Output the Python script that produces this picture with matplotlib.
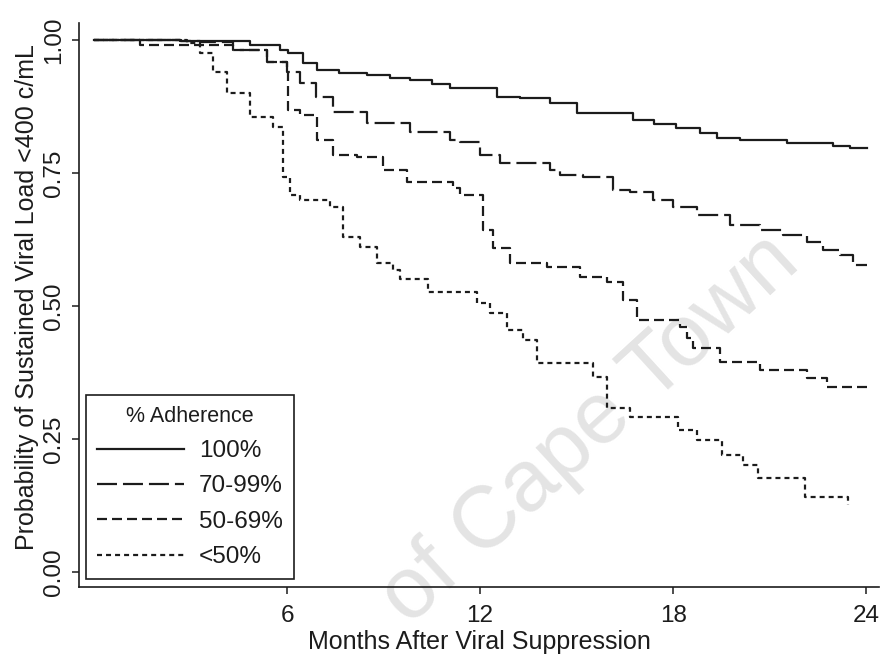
import matplotlib.pyplot as plt

plt.rcParams['font.family'] = ['Liberation Sans', 'DejaVu Sans']
plt.rcParams['lines.scale_dashes'] = False

# Kaplan-Meier step estimates by adherence group (months, survival)
t_100 = [0, 2.7, 4.85, 5.78, 6.03, 6.5, 6.93, 7.6, 8.49, 9.2, 9.82, 10.5, 11.07, 12.53,
         13.24, 14.17, 15.01, 16.75, 17.4, 18.1, 18.84, 19.37, 20.08, 21.54, 22.97, 23.5, 24.03]
s_100 = [1.0, 0.998, 0.991, 0.981, 0.976, 0.957, 0.944, 0.938, 0.934, 0.929, 0.925, 0.918, 0.910, 0.893,
         0.891, 0.882, 0.863, 0.850, 0.842, 0.834, 0.825, 0.816, 0.812, 0.806, 0.801, 0.797, 0.797]

t_70 = [0, 2.67, 3.3, 4.32, 5.38, 6.0, 6.4, 6.9, 7.43, 8.49, 9.82, 11.07, 11.38, 12.0, 12.62,
        14.17, 14.49, 15.2, 16.13, 16.66, 17.38, 18.0, 18.74, 19.77, 20.7, 21.42, 22.16, 22.66,
        23.19, 23.59, 24.03]
s_70 = [1.0, 0.998, 0.996, 0.981, 0.959, 0.940, 0.919, 0.893, 0.865, 0.844, 0.827, 0.812, 0.808, 0.784, 0.769,
        0.756, 0.746, 0.742, 0.718, 0.714, 0.699, 0.686, 0.671, 0.652, 0.643, 0.634, 0.620, 0.605,
        0.596, 0.577, 0.577]

t_50 = [0, 1.43, 4.32, 5.38, 6.0, 6.03, 6.4, 6.93, 7.43, 8.18, 8.98, 9.73, 11.16, 11.38, 12.09,
        12.4, 12.93, 14.08, 15.11, 15.95, 16.44, 16.88, 18.22, 18.43, 18.62, 19.46, 20.7, 22.16,
        22.79, 24.03]
s_50 = [1.0, 0.991, 0.981, 0.959, 0.944, 0.868, 0.859, 0.812, 0.784, 0.780, 0.756, 0.733, 0.722, 0.709, 0.643,
        0.609, 0.581, 0.573, 0.555, 0.545, 0.511, 0.474, 0.461, 0.440, 0.421, 0.395, 0.380, 0.365,
        0.348, 0.348]

t_lt50 = [0, 2.89, 3.3, 3.7, 4.13, 4.85, 5.56, 5.88, 6.09, 6.4, 7.34, 7.74, 8.27, 8.8, 9.29, 9.51,
          10.38, 11.91, 12.31, 12.84, 13.34, 13.77, 15.51, 15.95, 16.66, 18.15, 18.74, 19.52,
          20.17, 20.64, 22.1, 23.44]
s_lt50 = [1.0, 0.994, 0.976, 0.940, 0.900, 0.855, 0.836, 0.742, 0.709, 0.699, 0.686, 0.630, 0.611, 0.581, 0.568, 0.551,
          0.526, 0.506, 0.487, 0.455, 0.436, 0.393, 0.367, 0.308, 0.291, 0.267, 0.248, 0.220,
          0.201, 0.177, 0.141, 0.126]

labels = ['100%', '70-99%', '50-69%', '<50%']
x_ticks = [6, 12, 18, 24]
y_ticks = [0.0, 0.25, 0.5, 0.75, 1.0]

ink = '#1c1c1c'
fig = plt.figure(figsize=(8.82, 6.56), dpi=100)
ax = fig.add_axes([79 / 882, 1 - 587 / 656, 800 / 882, 564 / 656])
ax.patch.set_visible(False)

dashes = [None, (14.4, 4.3), (7.2, 3.6), (3.6, 2.9)]
series = [(t_100, s_100), (t_70, s_70), (t_50, s_50), (t_lt50, s_lt50)]
handles = []
for (t, s), dash, lab in zip(series, dashes, labels):
    line, = ax.plot(t, s, drawstyle='steps-post', color=ink, lw=1.6, label=lab)
    if dash is not None:
        line.set_dashes(dash)
    handles.append(line)

ax.set_xlim(-0.466, 24.4)
ax.set_ylim(-0.028, 1.032)
ax.set_xticks(x_ticks)
ax.set_yticks(y_ticks)
ax.set_yticklabels([f'{v:.2f}' for v in y_ticks])
for side in ['top', 'right']:
    ax.spines[side].set_visible(False)
for side in ['left', 'bottom']:
    ax.spines[side].set_color(ink)
    ax.spines[side].set_linewidth(1.2)
ax.tick_params(axis='both', length=5, width=1.1, color=ink, labelsize=17.5, labelcolor=ink)
ax.tick_params(axis='x', pad=8)
ax.tick_params(axis='y', pad=5, labelrotation=90)
for lbl in ax.get_yticklabels():
    lbl.set_va('center')

ax.set_xlabel('Months After Viral Suppression', fontsize=18, color=ink)
ax.xaxis.set_label_coords(0.5, -0.077)
ax.set_ylabel('Probability of Sustained Viral Load <400 c/mL', fontsize=18, color=ink)
ax.yaxis.set_label_coords(-0.05, 0.514)

leg = ax.legend(handles=handles, title='% Adherence', loc='lower left',
                bbox_to_anchor=(0.009, 0.014), borderaxespad=0, fontsize=17.5,
                title_fontsize=15.5, handlelength=3.58, handletextpad=0.6,
                labelspacing=0.55, borderpad=0.45, fancybox=False, framealpha=1)
leg.get_frame().set_edgecolor(ink)
leg.get_frame().set_linewidth(1.2)
for txt in leg.get_texts():
    txt.set_color(ink)
leg.get_title().set_color(ink)

# faint diagonal institutional watermark behind the curves
fig.text(590 / 882, 1 - 430 / 656, 'of Cape Town', fontsize=63, color='#e4e4e4',
         rotation=42.5, ha='center', va='center', rotation_mode='anchor', zorder=-1)

fig.savefig('out.png', dpi=100)
